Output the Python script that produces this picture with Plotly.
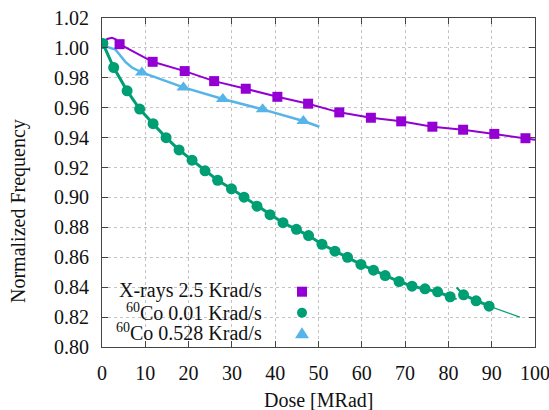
import plotly.graph_objects as go

# ---------------- data ----------------
# X-rays 2.5 Krad/s : continuous line and marker points
xray_line_dose = [0.0, 1.2, 2.3, 3.2, 4.06, 11.7, 19.1, 25.9, 33.2, 40.5, 47.6, 54.8, 62.1, 69.1, 76.3, 83.4, 90.6, 97.8, 100.0]
xray_line_freq = [1.0005, 1.0060, 1.0068, 1.0058, 1.0025, 0.9907, 0.9845, 0.9778, 0.9727, 0.9673, 0.9627, 0.9569, 0.9533, 0.9509, 0.9473, 0.9453, 0.9425, 0.9396, 0.9385]
xray_pts_dose = [4.06, 11.7, 19.1, 25.9, 33.2, 40.5, 47.6, 54.8, 62.1, 69.1, 76.3, 83.4, 90.6, 97.8]
xray_pts_freq = [1.0025, 0.9907, 0.9845, 0.9778, 0.9727, 0.9673, 0.9627, 0.9569, 0.9533, 0.9509, 0.9473, 0.9453, 0.9425, 0.9396]

# 60Co 0.01 Krad/s
co1_pts_dose = [0.2, 2.7, 5.8, 8.7, 11.8, 14.8, 17.8, 20.8, 23.8, 26.7, 29.9, 32.8, 35.8, 38.8, 41.8,
                44.9, 47.7, 50.8, 53.8, 56.7, 59.8, 62.7, 65.4, 68.6, 71.6, 74.6, 77.5, 80.4, 83.5, 86.4, 89.4]
co1_pts_freq = [1.0030, 0.9869, 0.9713, 0.9591, 0.9493, 0.9400, 0.9318, 0.9249, 0.9178, 0.9115, 0.9058, 0.9002, 0.8942, 0.8885, 0.8831,
                0.8787, 0.8745, 0.8687, 0.8641, 0.8600, 0.8552, 0.8514, 0.8478, 0.8438, 0.8407, 0.8389, 0.8369, 0.8336, 0.8349, 0.8309, 0.8273]
co1_break_dose = [80.4, 81.9, None, 81.9, 83.5]
co1_break_freq = [0.8336, 0.8320, None, 0.8398, 0.8349]
co1_tail_dose = [89.4, 96.5]
co1_tail_freq = [0.8273, 0.8200]

# 60Co 0.528 Krad/s
co2_line_dose = [0.0, 3.1, 5.4, 6.9, 9.2, 18.8, 27.9, 37.1, 46.5, 50.2]
co2_line_freq = [1.0018, 0.9989, 0.9907, 0.9869, 0.9836, 0.9736, 0.9658, 0.9589, 0.9511, 0.9473]
co2_pts_dose = [9.2, 18.8, 27.9, 37.1, 46.5]
co2_pts_freq = [0.9836, 0.9736, 0.9658, 0.9589, 0.9511]

x_ticks = [0, 10, 20, 30, 40, 50, 60, 70, 80, 90, 100]
y_ticks = [0.80, 0.82, 0.84, 0.86, 0.88, 0.90, 0.92, 0.94, 0.96, 0.98, 1.00, 1.02]

legend_labels = ["X-rays 2.5 Krad/s", "<sup>60</sup>Co 0.01 Krad/s", "<sup>60</sup>Co 0.528 Krad/s"]

# ---------------- style ----------------
PURPLE = "#9400d3"
GREEN = "#009e73"
BLUE = "#56b4e9"
FONT = "'Liberation Serif', 'Times New Roman', Times, serif"

fig = go.Figure()

# lines
fig.add_trace(go.Scatter(x=co1_pts_dose[:28], y=co1_pts_freq[:28], mode="lines",
                         line=dict(color=GREEN, width=3), showlegend=False, hoverinfo="skip"))
fig.add_trace(go.Scatter(x=co1_break_dose, y=co1_break_freq, mode="lines", connectgaps=False,
                         line=dict(color=GREEN, width=2), showlegend=False, hoverinfo="skip"))
fig.add_trace(go.Scatter(x=co1_pts_dose[28:], y=co1_pts_freq[28:], mode="lines",
                         line=dict(color=GREEN, width=3), showlegend=False, hoverinfo="skip"))
fig.add_trace(go.Scatter(x=co1_tail_dose, y=co1_tail_freq, mode="lines",
                         line=dict(color=GREEN, width=1.2), showlegend=False, hoverinfo="skip"))
fig.add_trace(go.Scatter(x=co2_line_dose, y=co2_line_freq, mode="lines",
                         line=dict(color=BLUE, width=2.5), showlegend=False, hoverinfo="skip"))
fig.add_trace(go.Scatter(x=xray_line_dose, y=xray_line_freq, mode="lines",
                         line=dict(color=PURPLE, width=2), showlegend=False, hoverinfo="skip"))

# markers
fig.add_trace(go.Scatter(x=co1_pts_dose, y=co1_pts_freq, mode="markers", name=legend_labels[1],
                         marker=dict(symbol="circle", size=11, color=GREEN), showlegend=False))
fig.add_trace(go.Scatter(x=co2_pts_dose, y=co2_pts_freq, mode="markers", name=legend_labels[2],
                         marker=dict(symbol="triangle-up", size=12, color=BLUE), showlegend=False))
fig.add_trace(go.Scatter(x=xray_pts_dose, y=xray_pts_freq, mode="markers", name=legend_labels[0],
                         marker=dict(symbol="square", size=10, color=PURPLE), showlegend=False))

# plot geometry
L, R, T, B = 102, 14, 18, 63
W, H = 549, 410
pw, ph = W - L - R, H - T - B

def px(xp):
    return (xp - L) / pw

def py(yp):
    return (H - B - yp) / ph

axis_common = dict(
    showline=True, linecolor="#444444", linewidth=1, mirror="allticks",
    ticks="inside", ticklen=6, tickcolor="#444444", tickwidth=1,
    showgrid=True, gridcolor="#c4c4c4", griddash="dot", gridwidth=1,
    zeroline=False, tickfont=dict(family=FONT, size=20, color="#111111"),
    ticklabelstandoff=8, ticklabeloverflow="allow",
)

fig.update_xaxes(range=[0, 100], tickvals=x_ticks, ticktext=[str(v) for v in x_ticks], **axis_common)
fig.update_yaxes(range=[0.80, 1.02], tickvals=y_ticks, ticktext=[f"{v:.2f}" for v in y_ticks], **axis_common)

shapes = []
# opaque key background (hides grid like gnuplot's opaque key)
shapes.append(dict(type="rect", xref="paper", yref="paper", x0=px(L + 1), x1=px(337), y0=py(H - B - 1), y1=py(280),
                   fillcolor="white", line=dict(width=0), layer="between"))
# key symbols
sym_x = px(302)
rows_y = [py(291.7), py(312.7), py(333.3)]
shapes.append(dict(type="rect", xref="paper", yref="paper", xsizemode="pixel", ysizemode="pixel",
                   xanchor=sym_x, yanchor=rows_y[0], x0=-5, x1=5, y0=-5, y1=5,
                   fillcolor=PURPLE, line=dict(width=0), layer="above"))
shapes.append(dict(type="circle", xref="paper", yref="paper", xsizemode="pixel", ysizemode="pixel",
                   xanchor=sym_x, yanchor=rows_y[1], x0=-5, x1=5, y0=-5, y1=5,
                   fillcolor=GREEN, line=dict(width=0), layer="above"))
shapes.append(dict(type="path", xref="paper", yref="paper", xsizemode="pixel", ysizemode="pixel",
                   xanchor=sym_x, yanchor=rows_y[2], path="M -7,-5 L 7,-5 L 0,6 Z",
                   fillcolor=BLUE, line=dict(width=0), layer="above"))

annotations = []
text_rows_y = [py(290.5), py(311.5), py(332)]
for lab, yy in zip(legend_labels, text_rows_y):
    annotations.append(dict(text=lab, xref="paper", yref="paper", x=px(264), y=yy, xanchor="right", yanchor="middle",
                            showarrow=False, font=dict(family=FONT, size=20, color="#111111")))
annotations.append(dict(text="Dose [MRad]", xref="paper", yref="paper", x=px(318), y=py(400),
                        xanchor="center", yanchor="middle", showarrow=False,
                        font=dict(family=FONT, size=20, color="#111111")))
annotations.append(dict(text="Normalized Frequency", xref="paper", yref="paper", x=px(19), y=py(211),
                        xanchor="center", yanchor="middle", textangle=-90, showarrow=False,
                        font=dict(family=FONT, size=20, color="#111111")))

fig.update_layout(
    width=W, height=H,
    margin=dict(l=L, r=R, t=T, b=B, autoexpand=False),
    paper_bgcolor="white", plot_bgcolor="white",
    showlegend=False,
    font=dict(family=FONT, size=20, color="#111111"),
    shapes=shapes, annotations=annotations,
)

fig.write_html("out.html", config={"displayModeBar": False},
               post_script="document.body.style.margin='0';document.body.style.padding='0';")
